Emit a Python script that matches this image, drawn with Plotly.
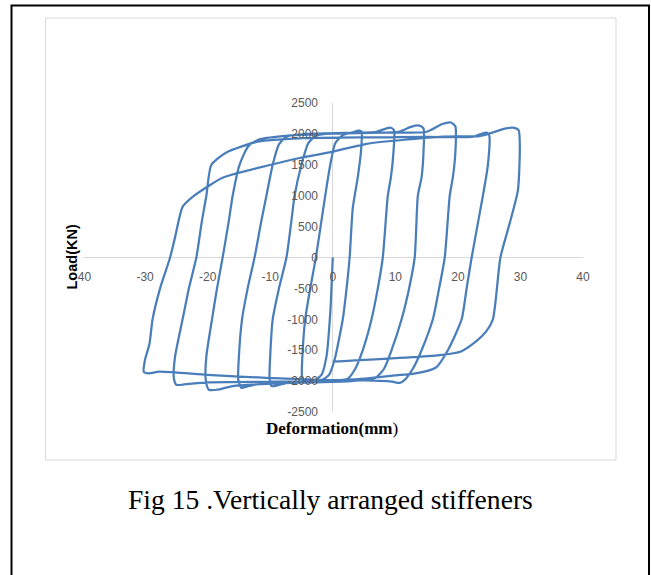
import plotly.graph_objects as go

# ---- data ----
deformation = [
    0, -0.4, -1.0, -1.8, -3.0, -4.4, -4.9,
    -4.8, -4.4, -3.6, -2.7, -1.8, -1.2, -0.4, 0.4, 1.6, 3.0, 4.2, 4.6,
    4.5, 4.0, 3.2, 2.7, 2.1, 1.6, 0.3, -0.6, -1.8, -4.0, -7.0, -9.0, -9.8, -10.1,
    -10.0, -9.6, -8.6, -7.4, -6.6, -6.1, -5.0, -3.9, -2.6, 0, 4, 7, 8.6, 9.3, 9.8,
    9.7, 9.3, 8.8, 8.0, 7.2, 6.2, 4.8, 3.6, 2.4, 0, -5, -10, -13.5, -14.6, -15.1,
    -15.0, -14.5, -13.6, -12.5, -11.4, -10.6, -9.6, -8.6, -7.3, -4, 3, 10.5, 12.5, 13.8, 14.5,
    14.5, 14.2, 13.6, 13.1, 12.2, 11.0, 9.4, 8.2, 6.8, 3, -3, -10, -16, -18.5, -19.8, -20.3,
    -20.2, -19.3, -18.5, -17.6, -16.6, -16.0, -14.9, -13.5, -11.8, -8, 0, 8, 15, 17.5, 18.9, 19.6,
    19.6, 19.2, 18.7, 17.9, 17.0, 16.0, 14.2, 12.8, 11.5, 10.7, 9.5, 5, 0, -10, -20, -23.5, -25.0, -25.4,
    -25.2, -24.0, -23.0, -21.8, -20.9, -20.2, -19.4, -17.0, -11.8, -5, 5, 15, 22.5, 24.0, 24.6, 25.0,
    24.8, 24.0, 22.2, 21.4, 20.6, 18.4, 16.5, 13, 10.7, 5, 0, -10, -20, -27.7, -29.4, -30.2, -30.0,
    -29.3, -28.8, -27.6, -26.0, -25.2, -24.0, -22.4, -20.1, -17.6, -5.3, 0, 5.4, 17.6, 23.5, 25.5, 27.5, 28.8, 29.7,
    29.9, 29.6, 28.3, 26.8, 25.6, 24.5, 23.0, 20.5, 17.1, 0,
]
load = [
    0, -900, -1600, -1900, -1990, -2010, -1930,
    -1500, -1000, -500, 0, 600, 1000, 1500, 1850, 1980, 2020, 2055, 2040,
    1700, 1300, 800, 0, -600, -1000, -1650, -1900, -1985, -2000, -2020, -2075, -2080, -1950,
    -1600, -1000, -500, 0, 600, 1000, 1500, 1850, 1975, 2010, 2020, 2035, 2090, 2100, 2060,
    1700, 1300, 1000, 0, -500, -1000, -1500, -1800, -1960, -2000, -2010, -2030, -2080, -2110, -1980,
    -1600, -1000, -500, 0, 600, 1000, 1500, 1830, 1960, 2000, 2020, 2035, 2115, 2135, 2090,
    1700, 1300, 1000, 0, -500, -1000, -1500, -1800, -1950, -2000, -2020, -2040, -2080, -2140, -2140, -1980,
    -1600, -1000, -500, 0, 600, 1000, 1500, 1800, 1910, 1965, 2005, 2020, 2035, 2160, 2185, 2120,
    1700, 1300, 1000, 0, -500, -1000, -1500, -1800, -1980, -2030, -2010, -1990, -2000, -2010, -2020, -2050, -2060, -1950,
    -1600, -1000, -500, 0, 600, 1000, 1500, 1700, 1880, 1930, 1945, 1950, 1955, 2010, 2020, 1980,
    1500, 1000, 0, -500, -1000, -1500, -1780, -1880, -1900, -1960, -1985, -1950, -1900, -1848, -1875, -1850, -1650,
    -1400, -1000, -500, 0, 330, 820, 980, 1140, 1290, 1610, 1712, 1840, 1955, 1965, 2020, 2085, 2100, 2060,
    1800, 1090, 560, 0, -1000, -1200, -1350, -1520, -1580, -1686,
]

x_ticks = [-40, -30, -20, -10, 0, 10, 20, 30, 40]
x_tick_labels = ["-40", "-30", "-20", "-10", "0", "10", "20", "30", "40"]
y_ticks = [-2500, -2000, -1500, -1000, -500, 0, 500, 1000, 1500, 2000, 2500]
y_tick_labels = ["-2500", "-2000", "-1500", "-1000", "-500", "0", "500", "1000", "1500", "2000", "2500"]

x_title = "<b>Deformation(mm</b>)"
y_title = "<b>Load(KN)</b>"
caption = "Fig 15 .Vertically arranged stiffeners"

W, H = 651, 575


def fx(p):
    """screen pixel x -> paper fraction"""
    return p / W


def fy(p):
    """screen pixel y (from top) -> paper fraction"""
    return (H - p) / H


fig = go.Figure(
    go.Scatter(
        x=deformation, y=load, mode="lines",
        line=dict(color="#4A7EBB", width=2.25, shape="spline", smoothing=0.6),
        hoverinfo="skip",
    )
)

tick_font = dict(family="Liberation Sans", size=12, color="#595959")

fig.update_layout(
    template="none",
    width=W, height=H,
    margin=dict(l=0, r=0, t=0, b=0, pad=0, autoexpand=False),
    paper_bgcolor="white", plot_bgcolor="rgba(0,0,0,0)",
    showlegend=False,
    xaxis=dict(
        domain=[fx(82.5), fx(583)], range=[-40, 40], automargin=False,
        tickmode="array", tickvals=x_ticks, ticktext=x_tick_labels,
        showgrid=False, showline=False, ticks="",
        zeroline=True, zerolinecolor="#d9d9d9", zerolinewidth=1,
        anchor="free", position=fy(257.5),
        tickfont=tick_font, ticklabelstandoff=10, fixedrange=True,
    ),
    yaxis=dict(
        domain=[fy(412), fy(103)], range=[-2500, 2500], automargin=False,
        tickmode="array", tickvals=y_ticks, ticktext=y_tick_labels,
        showgrid=False, showline=False, ticks="",
        zeroline=True, zerolinecolor="#d9d9d9", zerolinewidth=1,
        anchor="free", position=fx(333),
        tickfont=tick_font, ticklabelstandoff=15, fixedrange=True,
    ),
    shapes=[
        dict(type="rect", xref="paper", yref="paper",
             x0=fx(11.5), x1=fx(649), y0=-0.1, y1=fy(5.5),
             line=dict(color="black", width=2), layer="below"),
        dict(type="rect", xref="paper", yref="paper",
             x0=fx(45.5), x1=fx(616), y0=fy(460), y1=fy(18),
             line=dict(color="#d9d9d9", width=1), layer="below"),
    ],
    annotations=[
        dict(text=y_title, xref="paper", yref="paper", x=fx(71), y=fy(257.5),
             textangle=-90, showarrow=False, xanchor="center", yanchor="middle",
             font=dict(family="Liberation Sans", size=14.5, color="black")),
        dict(text=x_title, xref="paper", yref="paper", x=fx(332), y=fy(428),
             showarrow=False, xanchor="center", yanchor="middle",
             font=dict(family="Liberation Serif", size=17, color="black")),
        dict(text=caption, xref="paper", yref="paper", x=fx(330.5), y=fy(499),
             showarrow=False, xanchor="center", yanchor="middle",
             font=dict(family="Liberation Serif", size=27.6, color="black")),
    ],
)

fig.write_html(
    "out.html",
    config={"displayModeBar": False, "displaylogo": False, "staticPlot": True},
    post_script="document.body.style.margin='0';document.body.style.overflow='hidden';",
)
